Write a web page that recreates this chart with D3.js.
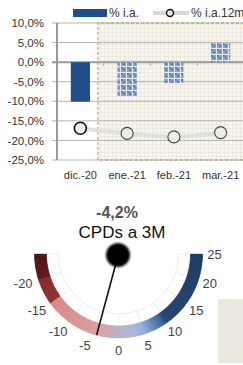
<!DOCTYPE html>
<html>
<head>
<meta charset="UTF-8">
<title>CPDs</title>
<script src="https://cdn.jsdelivr.net/npm/d3@7"></script>
<style>
  body { margin: 0; background: #fff; }
  svg { display: block; font-family: "Liberation Sans", Arial, sans-serif; }
</style>
</head>
<body>
<svg class="chart" width="243" height="365"></svg>

<script>
// data
var categories = ["dic.-20", "ene.-21", "feb.-21", "mar.-21"];
var iaValues = [-10.1, -8.9, -5.3, 4.8];
var ia12mValues = [-16.9, -18.2, -19.1, -18.0];
var yTicks = [10, 5, 0, -5, -10, -15, -20, -25];
var gaugeTicks = [-20, -15, -10, -5, 0, 5, 10, 15, 20, 25];
var gaugeValue = -4.2;
var gaugeTitle = "CPDs a 3M";

var svg = d3.select(".chart");
var defs = svg.append("defs");

// patterns
var pBar = defs.append("pattern").attr("id", "barPat")
  .attr("width", 6).attr("height", 6).attr("patternUnits", "userSpaceOnUse");
pBar.append("rect").attr("width", 6).attr("height", 6).attr("fill", "#8aa4cc");
pBar.append("rect").attr("x", 1).attr("y", 1).attr("width", 2).attr("height", 2).attr("fill", "#5a7db0");
pBar.append("rect").attr("x", 3).attr("y", 3).attr("width", 2).attr("height", 2).attr("fill", "#5a7db0");
pBar.append("path").attr("d", "M0,0.5H6M0.5,0V6").attr("stroke", "#e3e9f2").attr("stroke-width", 1);

var pBg = defs.append("pattern").attr("id", "bgPat")
  .attr("width", 4).attr("height", 4).attr("patternUnits", "userSpaceOnUse");
pBg.append("rect").attr("width", 4).attr("height", 4).attr("fill", "#f7f6f0");
pBg.append("path").attr("d", "M0,0.5H4M0.5,0V4").attr("stroke", "#ebe9de").attr("stroke-width", 1);

// ---------- top chart ----------
var plotLeft = 57, plotRight = 244, plotTop = 23, plotBottom = 160;

var x = d3.scaleBand().domain(categories).range([plotLeft, plotRight])
  .paddingInner(0.59).paddingOuter(0.295);
var y = d3.scaleLinear().domain([-25, 10]).range([plotBottom, plotTop]);

// forecast shaded area
var fx = x("ene.-21") - x.step() * 0.42;
svg.append("rect")
  .attr("x", fx).attr("y", y(10))
  .attr("width", plotRight - fx).attr("height", y(-25) - y(10))
  .attr("fill", "url(#bgPat)");

// gridlines
svg.append("g").selectAll("line").data(yTicks).enter().append("line")
  .attr("x1", plotLeft - 5).attr("x2", plotRight)
  .attr("y1", function(d){ return y(d); }).attr("y2", function(d){ return y(d); })
  .attr("stroke", function(d){ return d === 0 ? "#9a9a9a" : "#b4b4b4"; })
  .attr("stroke-width", function(d){ return d === 0 ? 2 : 1; });

// dashed border of forecast region
svg.append("path")
  .attr("d", "M" + plotRight + "," + y(10) + "H" + fx + "V" + y(-25) + "H" + plotRight)
  .attr("fill", "none").attr("stroke", "#a89c68").attr("stroke-width", 1)
  .attr("stroke-dasharray", "3,2");

// y axis
var yAxis = d3.axisLeft(y).tickValues(yTicks).tickSize(0)
  .tickFormat(function(d){ return d.toFixed(1).replace(".", ",") + "%"; });
var ya = svg.append("g").attr("transform", "translate(" + (plotLeft - 10) + ",0)").call(yAxis);
ya.select(".domain").remove();
ya.selectAll("text").attr("font-size", 11.5).attr("fill", "#333")
  .attr("font-family", "Liberation Sans, Arial, sans-serif");
svg.append("line").attr("x1", plotLeft).attr("x2", plotLeft)
  .attr("y1", y(10)).attr("y2", y(-25))
  .attr("stroke", "#999").attr("stroke-width", 2);

// small ticks on the zero line
svg.append("g").selectAll("line").data(categories.slice(1)).enter().append("line")
  .attr("x1", function(d){ return x(d) - x.step() * 0.295; })
  .attr("x2", function(d){ return x(d) - x.step() * 0.295; })
  .attr("y1", y(0)).attr("y2", y(0) + 4)
  .attr("stroke", "#aaa").attr("stroke-width", 1);

// bars
svg.append("g").selectAll("rect").data(iaValues).enter().append("rect")
  .attr("x", function(d, i){ return x(categories[i]); })
  .attr("width", x.bandwidth())
  .attr("y", function(d){ return y(Math.max(0, d)); })
  .attr("height", function(d){ return Math.abs(y(d) - y(0)); })
  .attr("fill", function(d, i){ return i === 0 ? "#1f4e8a" : "url(#barPat)"; });

// 12m line
var line = d3.line()
  .x(function(d, i){ return x(categories[i]) + x.bandwidth() / 2; })
  .y(function(d){ return y(d); })
  .curve(d3.curveMonotoneX);
svg.append("path").datum(ia12mValues).attr("d", line)
  .attr("fill", "none").attr("stroke", "#e0e0e0").attr("stroke-width", 4);
svg.append("g").selectAll("circle").data(ia12mValues).enter().append("circle")
  .attr("cx", function(d, i){ return x(categories[i]) + x.bandwidth() / 2; })
  .attr("cy", function(d){ return y(d); })
  .attr("r", 6)
  .attr("fill", "#efeee2")
  .attr("stroke", function(d, i){ return i === 0 ? "#111" : "#444"; })
  .attr("stroke-width", function(d, i){ return i === 0 ? 1.6 : 1.1; });

// x labels
svg.append("g").selectAll("text").data(categories).enter().append("text")
  .attr("x", function(d){ return x(d) + x.bandwidth() / 2; })
  .attr("y", 179)
  .attr("text-anchor", "middle").attr("font-size", 11).attr("fill", "#333")
  .text(function(d){ return d; });

// legend
svg.append("rect").attr("x", 73).attr("y", 9).attr("width", 34).attr("height", 8).attr("fill", "#1f4e8a");
svg.append("text").attr("x", 109).attr("y", 17).attr("font-size", 12).attr("fill", "#333").text("% i.a.");
svg.append("line").attr("x1", 153).attr("x2", 189).attr("y1", 13).attr("y2", 13)
  .attr("stroke", "#d8d8d8").attr("stroke-width", 4);
svg.append("circle").attr("cx", 170).attr("cy", 13).attr("r", 3.5)
  .attr("fill", "#efeee2").attr("stroke", "#111").attr("stroke-width", 1.4);
svg.append("text").attr("x", 191).attr("y", 17).attr("font-size", 12).attr("fill", "#333").text("% i.a.12m");

// ---------- gauge ----------
var cx = 118.5, cy = 254;
var ang = d3.scaleLinear().domain([-25, 25]).range([1.5 * Math.PI, 0.5 * Math.PI]);
var gColor = d3.scaleLinear()
  .domain([-25, -20.01, -20, -15.01, -15, -5.5, -3, 3, 5, 9, 10, 25])
  .range(["#4a1414", "#5e1b1b", "#8a2c2c", "#8f3030", "#d98a8a", "#dd9a9a",
          "#d4a4ac", "#a9b9d8", "#8fb0dc", "#3f6699", "#264670", "#1f3c66"]);

var gauge = svg.append("g").attr("transform", "translate(" + cx + "," + cy + ")");

// inner faint tick band
var faint = d3.arc().innerRadius(60).outerRadius(72);
var steps = d3.range(-25, 25, 5);
gauge.append("g").selectAll("path").data(steps).enter().append("path")
  .attr("d", function(d){ return faint({ startAngle: ang(d), endAngle: ang(d + 5) }); })
  .attr("fill", "#fff").attr("stroke", "#eeeeee").attr("stroke-width", 1);

// coloured band
var band = d3.arc().innerRadius(72).outerRadius(84);
var fine = d3.range(-25, 25, 0.25);
gauge.append("g").selectAll("path").data(fine).enter().append("path")
  .attr("d", function(d){ return band({ startAngle: ang(d), endAngle: ang(Math.min(25, d + 0.35)) }); })
  .attr("fill", function(d){ return gColor(d + 0.125); })
  .attr("stroke", function(d){ return gColor(d + 0.125); })
  .attr("stroke-width", 0.4);

// tick labels
gauge.append("g").selectAll("text").data(gaugeTicks).enter().append("text")
  .attr("x", function(d){ return 96 * Math.sin(ang(d)) - (d < 0 ? 4 : 0); })
  .attr("y", function(d){ return -96 * Math.cos(ang(d)); })
  .attr("dy", "0.35em")
  .attr("text-anchor", "middle").attr("font-size", 13).attr("fill", "#444")
  .text(function(d){ return d; });

// needle
var a = ang(gaugeValue);
gauge.append("line")
  .attr("x1", 0).attr("y1", 0)
  .attr("x2", 84 * Math.sin(a)).attr("y2", -84 * Math.cos(a))
  .attr("stroke", "#111").attr("stroke-width", 1.6);
defs.append("filter").attr("id", "blur").append("feGaussianBlur").attr("stdDeviation", 0.8);
gauge.append("circle").attr("cx", -0.5).attr("cy", 1).attr("r", 12)
  .attr("fill", "#050505").attr("filter", "url(#blur)");

// titles
svg.append("text").attr("x", 117).attr("y", 218).attr("text-anchor", "middle")
  .attr("font-size", 16).attr("font-weight", "bold").attr("fill", "#555")
  .text(String(gaugeValue).replace(".", ",") + "%");
svg.append("text").attr("x", 122).attr("y", 238).attr("text-anchor", "middle")
  .attr("font-size", 17).attr("fill", "#111").text(gaugeTitle);

// beige box bottom right
svg.append("rect").attr("x", 218).attr("y", 299).attr("width", 25).attr("height", 64)
  .attr("fill", "#ebe8df");
</script>
</body>
</html>
